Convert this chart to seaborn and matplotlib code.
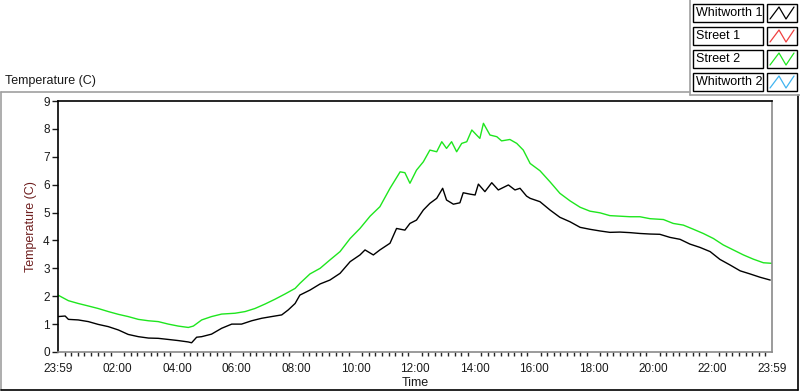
import numpy as np
import pandas as pd
import matplotlib
matplotlib.use('Agg')
import matplotlib.pyplot as plt
from matplotlib.lines import Line2D
from matplotlib.patches import Rectangle
import seaborn as sns


# temperature log, hours after 23:59

street2_hours = [0.0, 0.35, 0.68, 1.02, 1.35, 1.69, 2.03, 2.36, 2.70, 3.04, 3.37, 3.71, 4.04, 4.38,
                 4.55, 4.83, 5.16, 5.50, 5.95, 6.29, 6.62, 6.96, 7.29, 7.63, 7.97, 8.13, 8.47, 8.81,
                 9.14, 9.48, 9.82, 10.15, 10.49, 10.82, 11.16, 11.50, 11.66, 11.83, 12.05, 12.28,
                 12.50, 12.73, 12.90, 13.06, 13.23, 13.40, 13.57, 13.74, 13.91, 14.07, 14.18, 14.30,
                 14.52, 14.75, 14.91, 15.19, 15.42, 15.64, 15.87, 16.20, 16.54, 16.87, 17.21, 17.55,
                 17.88, 18.22, 18.55, 19.23, 19.56, 19.90, 20.35, 20.68, 21.02, 21.36, 21.69, 22.03,
                 22.36, 22.70, 23.04, 23.37, 23.71, 23.99]
street2_temp = [2.04, 1.84, 1.74, 1.65, 1.56, 1.45, 1.35, 1.27, 1.17, 1.12, 1.09, 1.00, 0.93, 0.88,
                0.93, 1.15, 1.27, 1.36, 1.39, 1.45, 1.56, 1.72, 1.89, 2.08, 2.28, 2.46, 2.80, 3.00,
                3.30, 3.60, 4.07, 4.43, 4.87, 5.21, 5.87, 6.46, 6.43, 6.05, 6.52, 6.82,
                7.24, 7.18, 7.54, 7.30, 7.54, 7.18, 7.48, 7.54, 7.96, 7.78, 7.66, 8.20,
                7.78, 7.72, 7.57, 7.62, 7.48, 7.24, 6.76, 6.50, 6.10, 5.69, 5.42, 5.19,
                5.05, 4.99, 4.89, 4.85, 4.85, 4.78, 4.75, 4.61, 4.55, 4.40, 4.25, 4.07,
                3.84, 3.66, 3.48, 3.33, 3.20, 3.18]

whitworth1_hours = [0.0, 0.24, 0.35, 0.68, 1.02, 1.35, 1.69, 2.03, 2.36, 2.70, 3.04, 3.37, 3.71, 4.04,
                    4.38, 4.49, 4.66, 4.83, 5.16, 5.50, 5.84, 6.17, 6.51, 6.85, 7.18, 7.52, 7.74,
                    7.97, 8.13, 8.47, 8.81, 9.14, 9.48, 9.82, 10.15, 10.32, 10.60, 10.82, 11.16,
                    11.38, 11.66, 11.83, 12.05, 12.28, 12.50, 12.73, 12.93, 13.06, 13.29, 13.51,
                    13.62, 13.85, 14.02, 14.13, 14.35, 14.58, 14.80, 15.14, 15.36, 15.53, 15.75,
                    15.87, 16.20, 16.54, 16.87, 17.21, 17.55, 17.88, 18.22, 18.55, 18.89, 19.23,
                    19.56, 19.90, 20.23, 20.57, 20.91, 21.24, 21.58, 21.92, 22.25, 22.59, 22.93,
                    23.26, 23.60, 23.94]
whitworth1_temp = [1.27, 1.29, 1.17, 1.15, 1.09, 0.99, 0.91, 0.79, 0.63, 0.55, 0.50, 0.49, 0.45, 0.41,
                   0.36, 0.33, 0.53, 0.55, 0.64, 0.85, 1.00, 1.00, 1.12, 1.21, 1.27, 1.33, 1.51,
                   1.74, 2.04, 2.22, 2.44, 2.58, 2.82, 3.24, 3.48, 3.66, 3.48, 3.66, 3.90,
                   4.43, 4.37, 4.61, 4.73, 5.09, 5.33, 5.51, 5.87, 5.45, 5.30, 5.35,
                   5.71, 5.66, 5.63, 6.02, 5.75, 6.07, 5.81, 5.99, 5.81, 5.87, 5.59,
                   5.51, 5.39, 5.09, 4.83, 4.67, 4.47, 4.40, 4.34, 4.29, 4.30, 4.28,
                   4.25, 4.23, 4.22, 4.11, 4.04, 3.87, 3.75, 3.60, 3.32, 3.12, 2.91,
                   2.80, 2.68, 2.58]

legend_names = ['Whitworth 1', 'Street 1', 'Street 2', 'Whitworth 2']
legend_colors = ['#000000', '#f04040', '#1ee61e', '#40b4f0']

x_ticks = [0, 2, 4, 6, 8, 10, 12, 14, 16, 18, 20, 22, 24]
x_labels = ['23:59', '02:00', '04:00', '06:00', '08:00', '10:00', '12:00', '14:00',
            '16:00', '18:00', '20:00', '22:00', '23:59']
y_ticks = [0, 1, 2, 3, 4, 5, 6, 7, 8, 9]


sns.set_style('white')
plt.rcParams['font.family'] = ['Liberation Sans', 'DejaVu Sans']

W, H = 800, 392
fig = plt.figure(figsize=(W / 100, H / 100), dpi=100)


def fx(px):
    return px / W


def fy(py):
    return 1 - py / H


data = pd.concat([
    pd.DataFrame({'hours': whitworth1_hours, 'temp': whitworth1_temp, 'series': 'Whitworth 1'}),
    pd.DataFrame({'hours': street2_hours, 'temp': street2_temp, 'series': 'Street 2'}),
])

ax = fig.add_axes([fx(58), fy(352), fx(772) - fx(58), fy(101) - fy(352)])
sns.lineplot(data=data, x='hours', y='temp', hue='series',
             palette={'Whitworth 1': legend_colors[0], 'Street 2': legend_colors[2]},
             estimator=None, sort=False, linewidth=1.0, legend=False, ax=ax)

ax.set_xlim(0, 24)
ax.set_ylim(0, 9)
ax.set_xticks(x_ticks)
ax.set_xticklabels(x_labels)
ax.set_xticks(np.arange(0, 24.01, 2 / 9), minor=True)
ax.set_yticks(y_ticks)
ax.tick_params(axis='both', direction='out', labelsize=8.5, colors='#1a1a1a')
ax.tick_params(axis='x', which='major', length=5, width=1, pad=3)
ax.tick_params(axis='x', which='minor', length=3, width=1, bottom=True)
ax.tick_params(axis='y', which='major', length=4, width=1, pad=2, left=True)
ax.set_xlabel('Time', fontsize=9, color='#1a1a1a', labelpad=1)
ax.set_ylabel('Temperature (C)', fontsize=9, color='#6e1e1e', labelpad=4)

for side, col in [('top', '#000000'), ('left', '#000000'), ('right', '#8a8a8a'), ('bottom', '#8a8a8a')]:
    ax.spines[side].set_visible(True)
    ax.spines[side].set_color(col)
    ax.spines[side].set_linewidth(1.2)

# panel frame and caption
fig.add_artist(Line2D([fx(1), fx(1)], [fy(92), fy(390)], color='#a0a0a0', lw=1.2))
fig.add_artist(Line2D([fx(1), fx(690)], [fy(92), fy(92)], color='#a0a0a0', lw=1.2))
fig.add_artist(Line2D([fx(1), fx(798)], [fy(390), fy(390)], color='#000000', lw=1.2))
fig.add_artist(Line2D([fx(798), fx(798)], [fy(95), fy(390)], color='#000000', lw=1.2))
fig.text(fx(5), fy(81), 'Temperature (C)', fontsize=9, color='#1a1a1a', va='center', ha='left')

# legend box
fig.add_artist(Line2D([fx(690), fx(690)], [fy(0), fy(95)], color='#a0a0a0', lw=1.2))
fig.add_artist(Line2D([fx(690), fx(800)], [fy(95), fy(95)], color='#a0a0a0', lw=1.2))
row_tops = [4, 27, 50, 73]
for name, col, top in zip(legend_names, legend_colors, row_tops):
    bot = top + 18
    fig.add_artist(Rectangle((fx(693), fy(bot)), fx(763) - fx(693), fy(top) - fy(bot),
                             fill=False, edgecolor='#000000', lw=1.0))
    fig.text(fx(696), fy(top + 9), name, fontsize=9, color='#000000', va='center', ha='left')
    fig.add_artist(Rectangle((fx(767), fy(bot)), fx(797) - fx(767), fy(top) - fy(bot),
                             fill=False, edgecolor='#000000', lw=1.0))
    fig.add_artist(Line2D([fx(770), fx(779), fx(786), fx(794)],
                          [fy(bot - 3), fy(top + 3), fy(bot - 3), fy(top + 3)],
                          color=col, lw=0.9))

fig.savefig('out.png', dpi=100)
